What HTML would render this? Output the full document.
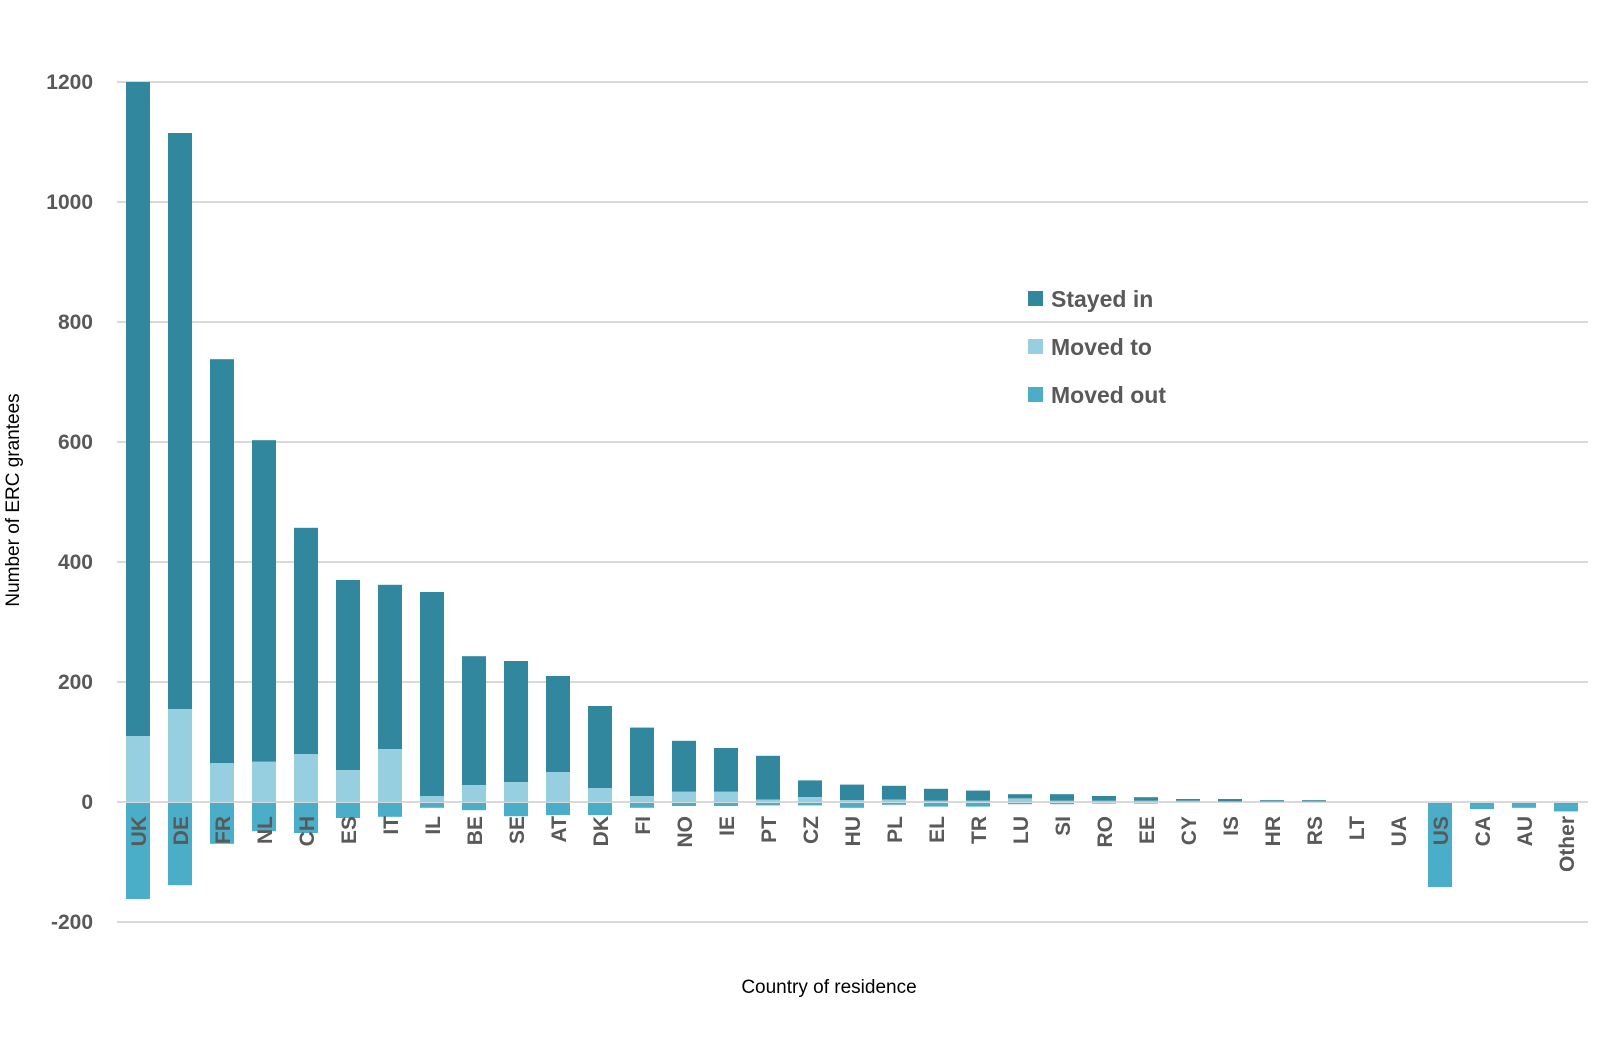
<!DOCTYPE html>
<html><head><meta charset="utf-8"><style>body{margin:0;background:#fff}svg{display:block}</style></head>
<body>
<svg width="1600" height="1054" xmlns="http://www.w3.org/2000/svg" font-family="Liberation Sans, sans-serif">
<g stroke="#d9d9d9" stroke-width="2">
<line x1="117" x2="1588" y1="82" y2="82"/><line x1="117" x2="1588" y1="202" y2="202"/><line x1="117" x2="1588" y1="322" y2="322"/><line x1="117" x2="1588" y1="442" y2="442"/><line x1="117" x2="1588" y1="562" y2="562"/><line x1="117" x2="1588" y1="682" y2="682"/><line x1="117" x2="1588" y1="802" y2="802"/><line x1="117" x2="1588" y1="922" y2="922"/>
</g>
<g font-size="21" font-weight="bold" fill="#595959" text-anchor="end">
<text x="93" y="89">1200</text><text x="93" y="209">1000</text><text x="93" y="329">800</text><text x="93" y="449">600</text><text x="93" y="569">400</text><text x="93" y="689">200</text><text x="93" y="809">0</text><text x="93" y="929">-200</text>
</g>
<g fill="#31879e">
<rect x="126" y="82" width="24" height="654"/>
<rect x="168" y="133" width="24" height="576"/>
<rect x="210" y="359.2" width="24" height="403.8"/>
<rect x="252" y="440.2" width="24" height="321.6"/>
<rect x="294" y="527.8" width="24" height="226.2"/>
<rect x="336" y="580" width="24" height="190.2"/>
<rect x="378" y="584.8" width="24" height="164.4"/>
<rect x="420" y="592" width="24" height="204"/>
<rect x="462" y="656.2" width="24" height="129"/>
<rect x="504" y="661" width="24" height="121.2"/>
<rect x="546" y="676" width="24" height="96"/>
<rect x="588" y="706" width="24" height="82.2"/>
<rect x="630" y="727.6" width="24" height="68.4"/>
<rect x="672" y="740.8" width="24" height="51"/>
<rect x="714" y="748" width="24" height="43.8"/>
<rect x="756" y="755.8" width="24" height="43.8"/>
<rect x="798" y="780.4" width="24" height="16.8"/>
<rect x="840" y="784.6" width="24" height="15.6"/>
<rect x="882" y="785.8" width="24" height="13.8"/>
<rect x="924" y="788.8" width="24" height="12"/>
<rect x="966" y="790.6" width="24" height="10.2"/>
<rect x="1008" y="794.2" width="24" height="4.2"/>
<rect x="1050" y="794.2" width="24" height="6.6"/>
<rect x="1092" y="796" width="24" height="4.8"/>
<rect x="1134" y="797.2" width="24" height="3.6"/>
<rect x="1176" y="799" width="24" height="1.8"/>
<rect x="1218" y="799" width="24" height="2.4"/>
<rect x="1260" y="800.2" width="24" height="1.2"/>
<rect x="1302" y="800.2" width="24" height="1.2"/>
</g>
<g fill="#95cfe0">
<rect x="126" y="736" width="24" height="66"/>
<rect x="168" y="709" width="24" height="93"/>
<rect x="210" y="763" width="24" height="39"/>
<rect x="252" y="761.8" width="24" height="40.2"/>
<rect x="294" y="754" width="24" height="48"/>
<rect x="336" y="770.2" width="24" height="31.8"/>
<rect x="378" y="749.2" width="24" height="52.8"/>
<rect x="420" y="796" width="24" height="6"/>
<rect x="462" y="785.2" width="24" height="16.8"/>
<rect x="504" y="782.2" width="24" height="19.8"/>
<rect x="546" y="772" width="24" height="30"/>
<rect x="588" y="788.2" width="24" height="13.8"/>
<rect x="630" y="796" width="24" height="6"/>
<rect x="672" y="791.8" width="24" height="10.2"/>
<rect x="714" y="791.8" width="24" height="10.2"/>
<rect x="756" y="799.6" width="24" height="2.4"/>
<rect x="798" y="797.2" width="24" height="4.8"/>
<rect x="840" y="800.2" width="24" height="1.8"/>
<rect x="882" y="799.6" width="24" height="2.4"/>
<rect x="924" y="800.8" width="24" height="1.2"/>
<rect x="966" y="800.8" width="24" height="1.2"/>
<rect x="1008" y="798.4" width="24" height="3.6"/>
<rect x="1050" y="800.8" width="24" height="1.2"/>
<rect x="1092" y="800.8" width="24" height="1.2"/>
<rect x="1134" y="800.8" width="24" height="1.2"/>
<rect x="1176" y="800.8" width="24" height="1.2"/>
<rect x="1218" y="801.4" width="24" height="0.6"/>
<rect x="1260" y="801.4" width="24" height="0.6"/>
<rect x="1302" y="801.4" width="24" height="0.6"/>
</g>
<g fill="#4aaec8">
<rect x="126" y="803" width="24" height="96"/>
<rect x="168" y="803" width="24" height="82.2"/>
<rect x="210" y="803" width="24" height="40.8"/>
<rect x="252" y="803" width="24" height="28.2"/>
<rect x="294" y="803" width="24" height="30"/>
<rect x="336" y="803" width="24" height="15"/>
<rect x="378" y="803" width="24" height="13.8"/>
<rect x="420" y="803" width="24" height="4.8"/>
<rect x="462" y="803" width="24" height="7.2"/>
<rect x="504" y="803" width="24" height="13.2"/>
<rect x="546" y="803" width="24" height="12"/>
<rect x="588" y="803" width="24" height="12"/>
<rect x="630" y="803" width="24" height="4.8"/>
<rect x="672" y="803" width="24" height="3"/>
<rect x="714" y="803" width="24" height="3"/>
<rect x="756" y="803" width="24" height="2.4"/>
<rect x="798" y="803" width="24" height="2.4"/>
<rect x="840" y="803" width="24" height="4.8"/>
<rect x="882" y="803" width="24" height="1.8"/>
<rect x="924" y="803" width="24" height="3.6"/>
<rect x="966" y="803" width="24" height="3.6"/>
<rect x="1008" y="803" width="24" height="1.2"/>
<rect x="1050" y="803" width="24" height="1.2"/>
<rect x="1092" y="803" width="24" height="0.6"/>
<rect x="1134" y="803" width="24" height="0.6"/>
<rect x="1428" y="803" width="24" height="84"/>
<rect x="1470" y="803" width="24" height="6"/>
<rect x="1512" y="803" width="24" height="4.8"/>
<rect x="1554" y="803" width="24" height="8.4"/>
</g>
<g font-size="21" font-weight="bold" fill="#595959" text-anchor="end">
<text transform="translate(146,816) rotate(-90)">UK</text>
<text transform="translate(188,816) rotate(-90)">DE</text>
<text transform="translate(230,816) rotate(-90)">FR</text>
<text transform="translate(272,816) rotate(-90)">NL</text>
<text transform="translate(314,816) rotate(-90)">CH</text>
<text transform="translate(356,816) rotate(-90)">ES</text>
<text transform="translate(398,816) rotate(-90)">IT</text>
<text transform="translate(440,816) rotate(-90)">IL</text>
<text transform="translate(482,816) rotate(-90)">BE</text>
<text transform="translate(524,816) rotate(-90)">SE</text>
<text transform="translate(566,816) rotate(-90)">AT</text>
<text transform="translate(608,816) rotate(-90)">DK</text>
<text transform="translate(650,816) rotate(-90)">FI</text>
<text transform="translate(692,816) rotate(-90)">NO</text>
<text transform="translate(734,816) rotate(-90)">IE</text>
<text transform="translate(776,816) rotate(-90)">PT</text>
<text transform="translate(818,816) rotate(-90)">CZ</text>
<text transform="translate(860,816) rotate(-90)">HU</text>
<text transform="translate(902,816) rotate(-90)">PL</text>
<text transform="translate(944,816) rotate(-90)">EL</text>
<text transform="translate(986,816) rotate(-90)">TR</text>
<text transform="translate(1028,816) rotate(-90)">LU</text>
<text transform="translate(1070,816) rotate(-90)">SI</text>
<text transform="translate(1112,816) rotate(-90)">RO</text>
<text transform="translate(1154,816) rotate(-90)">EE</text>
<text transform="translate(1196,816) rotate(-90)">CY</text>
<text transform="translate(1238,816) rotate(-90)">IS</text>
<text transform="translate(1280,816) rotate(-90)">HR</text>
<text transform="translate(1322,816) rotate(-90)">RS</text>
<text transform="translate(1364,816) rotate(-90)">LT</text>
<text transform="translate(1406,816) rotate(-90)">UA</text>
<text transform="translate(1448,816) rotate(-90)">US</text>
<text transform="translate(1490,816) rotate(-90)">CA</text>
<text transform="translate(1532,816) rotate(-90)">AU</text>
<text transform="translate(1574,816) rotate(-90)">Other</text>
</g>
<rect x="1028" y="291" width="15" height="15" fill="#31879e"/>
<rect x="1028" y="339" width="15" height="15" fill="#95cfe0"/>
<rect x="1028" y="387" width="15" height="15" fill="#4aaec8"/>
<g font-size="23" font-weight="bold" fill="#595959">
<text x="1051" y="307">Stayed in</text><text x="1051" y="355">Moved to</text><text x="1051" y="403">Moved out</text>
</g>
<text x="829" y="993" font-size="19" fill="#000" text-anchor="middle">Country of residence</text>
<text transform="translate(19,500) rotate(-90)" font-size="19" fill="#000" text-anchor="middle">Number of ERC grantees</text>
</svg>
</body></html>
